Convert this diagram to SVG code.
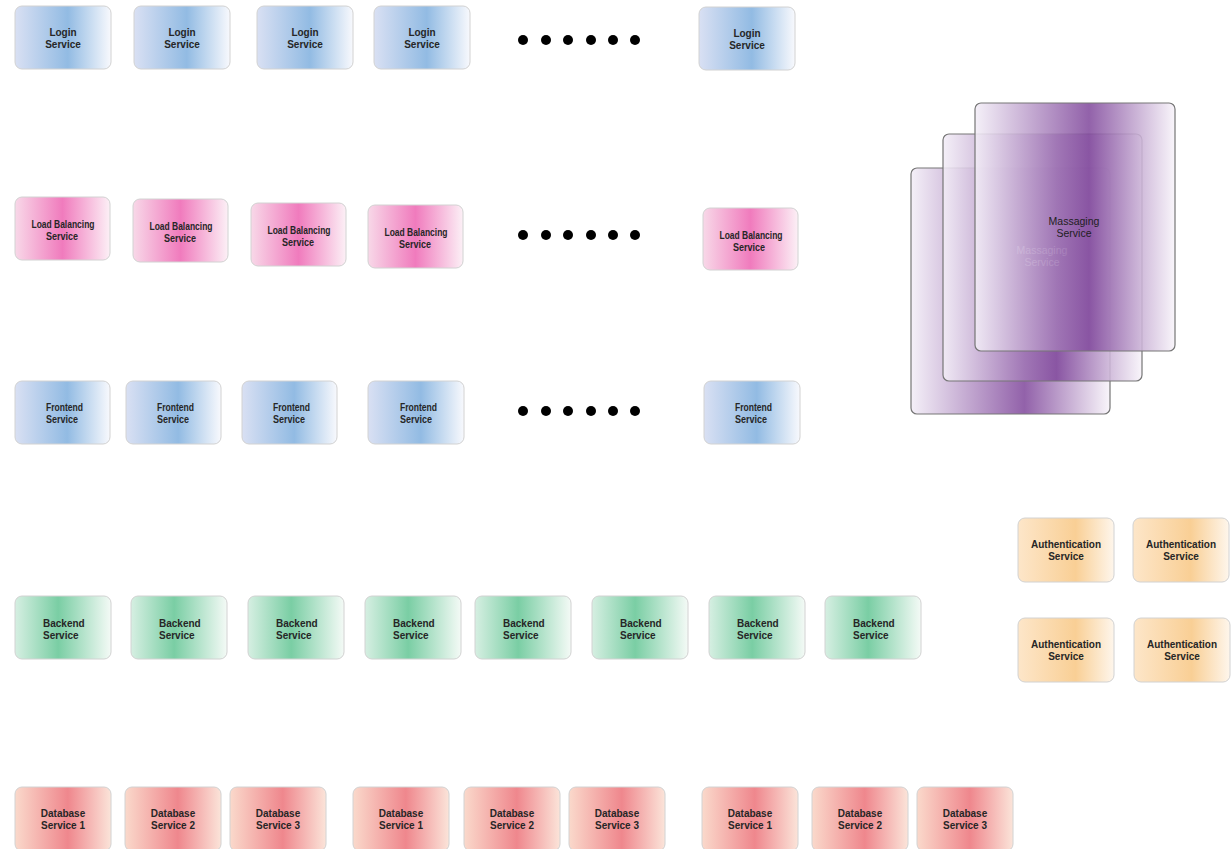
<svg xmlns="http://www.w3.org/2000/svg" width="1231" height="849" viewBox="0 0 1231 849">
  <defs>
    <linearGradient id="gBlue" x1="0" y1="0" x2="1" y2="0">
      <stop offset="0" stop-color="#d9e0f3"/>
      <stop offset="0.55" stop-color="#92bbe3"/>
      <stop offset="1" stop-color="#f8f9fd"/>
    </linearGradient>
    <linearGradient id="gPink" x1="0" y1="0" x2="1" y2="0">
      <stop offset="0" stop-color="#f8d8e8"/>
      <stop offset="0.5" stop-color="#f07bbd"/>
      <stop offset="1" stop-color="#fcf0f6"/>
    </linearGradient>
    <linearGradient id="gGreen" x1="0" y1="0" x2="1" y2="0">
      <stop offset="0" stop-color="#d6efe2"/>
      <stop offset="0.45" stop-color="#7acea4"/>
      <stop offset="1" stop-color="#f4faf6"/>
    </linearGradient>
    <linearGradient id="gOrange" x1="0" y1="0" x2="1" y2="0">
      <stop offset="0" stop-color="#fde6c9"/>
      <stop offset="0.6" stop-color="#f9cf95"/>
      <stop offset="1" stop-color="#fef6ec"/>
    </linearGradient>
    <linearGradient id="gRed" x1="0" y1="0" x2="1" y2="0">
      <stop offset="0" stop-color="#fad9cb"/>
      <stop offset="0.55" stop-color="#ef878d"/>
      <stop offset="1" stop-color="#fbe4d9"/>
    </linearGradient>
    <linearGradient id="gPurple" x1="0" y1="0" x2="1" y2="0">
      <stop offset="0" stop-color="#f3eef7"/>
      <stop offset="0.57" stop-color="#834c9e"/>
      <stop offset="1" stop-color="#f8f4fa"/>
    </linearGradient>
  </defs>
  <style>
    .box { stroke: #d2d2d2; stroke-width: 1; }
    .blue { fill: url(#gBlue); }
    .pink { fill: url(#gPink); }
    .green { fill: url(#gGreen); }
    .orange { fill: url(#gOrange); }
    .red { fill: url(#gRed); }
    .lbl { font-family: "Liberation Sans", Arial, sans-serif; font-weight: bold; font-size: 10px; fill: #262626; text-anchor: middle; }
    .narrow { font-size: 10.5px; }
    .left { text-anchor: start; }
    .sheet { fill: url(#gPurple); fill-opacity: 0.88; stroke: #767676; stroke-width: 1.2; }
    .msg { font-family: "Liberation Sans", Arial, sans-serif; font-size: 10.5px; fill: #1e1e1e; text-anchor: middle; }
    .ghost { fill: #ffffff; }
    .dot { fill: #000; }
  </style>

  <rect width="1231" height="849" fill="#ffffff"/>

  <!-- Login services -->
  <g id="login-1"><rect class="box blue" x="15" y="6" width="96" height="63" rx="7"/><text class="lbl" x="63" y="36">Login</text><text class="lbl" x="63" y="48">Service</text></g>
  <g id="login-2"><rect class="box blue" x="134" y="6" width="96" height="63" rx="7"/><text class="lbl" x="182" y="36">Login</text><text class="lbl" x="182" y="48">Service</text></g>
  <g id="login-3"><rect class="box blue" x="257" y="6" width="96" height="63" rx="7"/><text class="lbl" x="305" y="36">Login</text><text class="lbl" x="305" y="48">Service</text></g>
  <g id="login-4"><rect class="box blue" x="374" y="6" width="96" height="63" rx="7"/><text class="lbl" x="422" y="36">Login</text><text class="lbl" x="422" y="48">Service</text></g>
  <g id="login-dots"><circle class="dot" cx="523" cy="40" r="5"/><circle class="dot" cx="546" cy="40" r="5"/><circle class="dot" cx="568" cy="40" r="5"/><circle class="dot" cx="591" cy="40" r="5"/><circle class="dot" cx="613" cy="40" r="5"/><circle class="dot" cx="635" cy="40" r="5"/></g>
  <g id="login-n"><rect class="box blue" x="699" y="7" width="96" height="63" rx="7"/><text class="lbl" x="747" y="37">Login</text><text class="lbl" x="747" y="49">Service</text></g>

  <!-- Load balancing services -->
  <g id="lb-1"><rect class="box pink" x="15" y="197" width="95" height="63" rx="7"/><text class="lbl narrow" x="63" y="228" textLength="63" lengthAdjust="spacingAndGlyphs">Load Balancing</text><text class="lbl narrow" x="62" y="240" textLength="32" lengthAdjust="spacingAndGlyphs">Service</text></g>
  <g id="lb-2"><rect class="box pink" x="133" y="199" width="95" height="63" rx="7"/><text class="lbl narrow" x="181" y="230" textLength="63" lengthAdjust="spacingAndGlyphs">Load Balancing</text><text class="lbl narrow" x="180" y="242" textLength="32" lengthAdjust="spacingAndGlyphs">Service</text></g>
  <g id="lb-3"><rect class="box pink" x="251" y="203" width="95" height="63" rx="7"/><text class="lbl narrow" x="299" y="234" textLength="63" lengthAdjust="spacingAndGlyphs">Load Balancing</text><text class="lbl narrow" x="298" y="246" textLength="32" lengthAdjust="spacingAndGlyphs">Service</text></g>
  <g id="lb-4"><rect class="box pink" x="368" y="205" width="95" height="63" rx="7"/><text class="lbl narrow" x="416" y="236" textLength="63" lengthAdjust="spacingAndGlyphs">Load Balancing</text><text class="lbl narrow" x="415" y="248" textLength="32" lengthAdjust="spacingAndGlyphs">Service</text></g>
  <g id="lb-dots"><circle class="dot" cx="523" cy="235" r="5"/><circle class="dot" cx="546" cy="235" r="5"/><circle class="dot" cx="568" cy="235" r="5"/><circle class="dot" cx="591" cy="235" r="5"/><circle class="dot" cx="613" cy="235" r="5"/><circle class="dot" cx="635" cy="235" r="5"/></g>
  <g id="lb-n"><rect class="box pink" x="703" y="208" width="95" height="62" rx="7"/><text class="lbl narrow" x="751" y="239" textLength="63" lengthAdjust="spacingAndGlyphs">Load Balancing</text><text class="lbl narrow" x="749" y="251" textLength="32" lengthAdjust="spacingAndGlyphs">Service</text></g>

  <!-- Frontend services -->
  <g id="fe-1"><rect class="box blue" x="15" y="381" width="95" height="63" rx="7"/><text class="lbl narrow left" x="46" y="411" textLength="37" lengthAdjust="spacingAndGlyphs">Frontend</text><text class="lbl narrow left" x="46" y="423" textLength="32" lengthAdjust="spacingAndGlyphs">Service</text></g>
  <g id="fe-2"><rect class="box blue" x="126" y="381" width="95" height="63" rx="7"/><text class="lbl narrow left" x="157" y="411" textLength="37" lengthAdjust="spacingAndGlyphs">Frontend</text><text class="lbl narrow left" x="157" y="423" textLength="32" lengthAdjust="spacingAndGlyphs">Service</text></g>
  <g id="fe-3"><rect class="box blue" x="242" y="381" width="95" height="63" rx="7"/><text class="lbl narrow left" x="273" y="411" textLength="37" lengthAdjust="spacingAndGlyphs">Frontend</text><text class="lbl narrow left" x="273" y="423" textLength="32" lengthAdjust="spacingAndGlyphs">Service</text></g>
  <g id="fe-4"><rect class="box blue" x="368" y="381" width="96" height="63" rx="7"/><text class="lbl narrow left" x="400" y="411" textLength="37" lengthAdjust="spacingAndGlyphs">Frontend</text><text class="lbl narrow left" x="400" y="423" textLength="32" lengthAdjust="spacingAndGlyphs">Service</text></g>
  <g id="fe-dots"><circle class="dot" cx="523" cy="411" r="5"/><circle class="dot" cx="546" cy="411" r="5"/><circle class="dot" cx="568" cy="411" r="5"/><circle class="dot" cx="591" cy="411" r="5"/><circle class="dot" cx="613" cy="411" r="5"/><circle class="dot" cx="635" cy="411" r="5"/></g>
  <g id="fe-n"><rect class="box blue" x="704" y="381" width="96" height="63" rx="7"/><text class="lbl narrow left" x="735" y="411" textLength="37" lengthAdjust="spacingAndGlyphs">Frontend</text><text class="lbl narrow left" x="735" y="423" textLength="32" lengthAdjust="spacingAndGlyphs">Service</text></g>

  <!-- Messaging service stack: three overlapping translucent sheets -->
  <g id="messaging">
    <rect class="sheet" x="911" y="168" width="199" height="246" rx="6"/>
    <rect class="sheet" x="943" y="134" width="199" height="247" rx="6"/>
    <text class="msg ghost" x="1042" y="254">Massaging</text>
    <text class="msg ghost" x="1042" y="266">Service</text>
    <rect class="sheet" x="975" y="103" width="200" height="248" rx="6"/>
    <text class="msg" x="1074" y="225">Massaging</text>
    <text class="msg" x="1074" y="237">Service</text>
  </g>

  <!-- Authentication services -->
  <g id="auth-1"><rect class="box orange" x="1018" y="518" width="96" height="64" rx="7"/><text class="lbl" x="1066" y="548">Authentication</text><text class="lbl" x="1066" y="560">Service</text></g>
  <g id="auth-2"><rect class="box orange" x="1133" y="518" width="96" height="64" rx="7"/><text class="lbl" x="1181" y="548">Authentication</text><text class="lbl" x="1181" y="560">Service</text></g>
  <g id="auth-3"><rect class="box orange" x="1018" y="618" width="96" height="64" rx="7"/><text class="lbl" x="1066" y="648">Authentication</text><text class="lbl" x="1066" y="660">Service</text></g>
  <g id="auth-4"><rect class="box orange" x="1134" y="618" width="96" height="64" rx="7"/><text class="lbl" x="1182" y="648">Authentication</text><text class="lbl" x="1182" y="660">Service</text></g>

  <!-- Backend services -->
  <g id="be-1"><rect class="box green" x="15" y="596" width="96" height="63" rx="7"/><text class="lbl left" x="43" y="627">Backend</text><text class="lbl left" x="43" y="639">Service</text></g>
  <g id="be-2"><rect class="box green" x="131" y="596" width="96" height="63" rx="7"/><text class="lbl left" x="159" y="627">Backend</text><text class="lbl left" x="159" y="639">Service</text></g>
  <g id="be-3"><rect class="box green" x="248" y="596" width="96" height="63" rx="7"/><text class="lbl left" x="276" y="627">Backend</text><text class="lbl left" x="276" y="639">Service</text></g>
  <g id="be-4"><rect class="box green" x="365" y="596" width="96" height="63" rx="7"/><text class="lbl left" x="393" y="627">Backend</text><text class="lbl left" x="393" y="639">Service</text></g>
  <g id="be-5"><rect class="box green" x="475" y="596" width="96" height="63" rx="7"/><text class="lbl left" x="503" y="627">Backend</text><text class="lbl left" x="503" y="639">Service</text></g>
  <g id="be-6"><rect class="box green" x="592" y="596" width="96" height="63" rx="7"/><text class="lbl left" x="620" y="627">Backend</text><text class="lbl left" x="620" y="639">Service</text></g>
  <g id="be-7"><rect class="box green" x="709" y="596" width="96" height="63" rx="7"/><text class="lbl left" x="737" y="627">Backend</text><text class="lbl left" x="737" y="639">Service</text></g>
  <g id="be-8"><rect class="box green" x="825" y="596" width="96" height="63" rx="7"/><text class="lbl left" x="853" y="627">Backend</text><text class="lbl left" x="853" y="639">Service</text></g>

  <!-- Database services -->
  <g id="db-1"><rect class="box red" x="15" y="787" width="96" height="64" rx="7"/><text class="lbl" x="63" y="817">Database</text><text class="lbl" x="63" y="829">Service 1</text></g>
  <g id="db-2"><rect class="box red" x="125" y="787" width="96" height="64" rx="7"/><text class="lbl" x="173" y="817">Database</text><text class="lbl" x="173" y="829">Service 2</text></g>
  <g id="db-3"><rect class="box red" x="230" y="787" width="96" height="64" rx="7"/><text class="lbl" x="278" y="817">Database</text><text class="lbl" x="278" y="829">Service 3</text></g>
  <g id="db-4"><rect class="box red" x="353" y="787" width="96" height="64" rx="7"/><text class="lbl" x="401" y="817">Database</text><text class="lbl" x="401" y="829">Service 1</text></g>
  <g id="db-5"><rect class="box red" x="464" y="787" width="96" height="64" rx="7"/><text class="lbl" x="512" y="817">Database</text><text class="lbl" x="512" y="829">Service 2</text></g>
  <g id="db-6"><rect class="box red" x="569" y="787" width="96" height="64" rx="7"/><text class="lbl" x="617" y="817">Database</text><text class="lbl" x="617" y="829">Service 3</text></g>
  <g id="db-7"><rect class="box red" x="702" y="787" width="96" height="64" rx="7"/><text class="lbl" x="750" y="817">Database</text><text class="lbl" x="750" y="829">Service 1</text></g>
  <g id="db-8"><rect class="box red" x="812" y="787" width="96" height="64" rx="7"/><text class="lbl" x="860" y="817">Database</text><text class="lbl" x="860" y="829">Service 2</text></g>
  <g id="db-9"><rect class="box red" x="917" y="787" width="96" height="64" rx="7"/><text class="lbl" x="965" y="817">Database</text><text class="lbl" x="965" y="829">Service 3</text></g>

  <!-- No connectors are drawn between the services -->
  <g id="connectors"/>
</svg>
